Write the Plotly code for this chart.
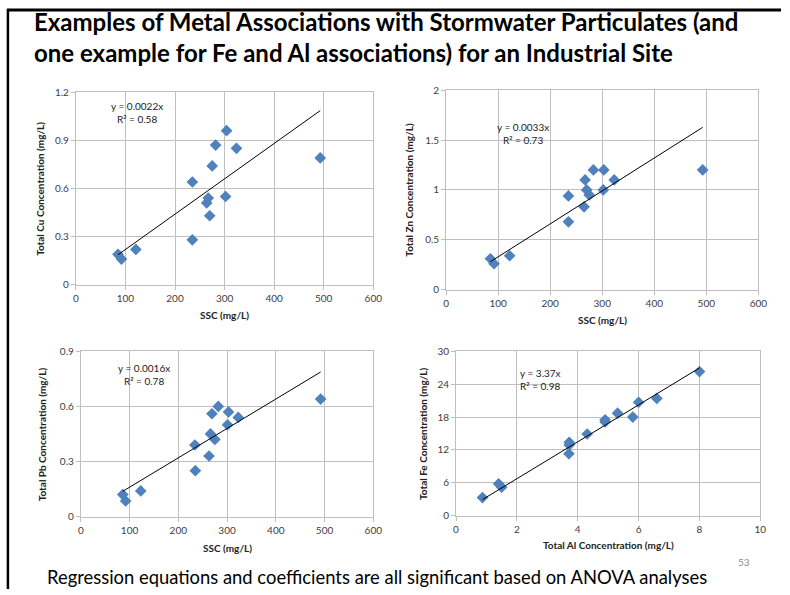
import plotly.graph_objects as go

# ---------------- data ----------------
ssc_cu = [85, 92, 121, 235, 235, 264, 267, 270, 275, 282, 304, 302, 324, 493]
cu = [0.19, 0.16, 0.22, 0.64, 0.28, 0.51, 0.54, 0.43, 0.74, 0.87, 0.96, 0.55, 0.85, 0.79]

ssc_zn = [85, 92, 122, 235, 235, 265, 267, 270, 275, 283, 303, 302, 323, 493]
zn = [0.31, 0.26, 0.34, 0.94, 0.68, 0.83, 1.10, 1.00, 0.95, 1.20, 1.20, 1.00, 1.10, 1.20]

ssc_pb = [86, 92, 123, 234, 235, 263, 266, 269, 275, 282, 303, 301, 323, 492]
pb = [0.12, 0.085, 0.14, 0.39, 0.25, 0.33, 0.45, 0.56, 0.42, 0.60, 0.57, 0.50, 0.54, 0.64]

al = [0.87, 1.40, 1.50, 3.72, 3.72, 3.71, 4.31, 4.90, 4.90, 5.31, 5.81, 6.00, 6.60, 8.00]
fe = [3.3, 5.8, 5.2, 13.4, 12.9, 11.3, 14.9, 17.5, 17.1, 18.7, 18.0, 20.7, 21.4, 26.3]

slopes = [0.0022, 0.0033, 0.0016, 3.37]
eq_labels = ["y = 0.0022x<br>R² = 0.58", "y = 0.0033x<br>R² = 0.73",
             "y = 0.0016x<br>R² = 0.78", "y = 3.37x<br>R² = 0.98"]
y_titles = ["Total Cu Concentration (mg/L)", "Total Zn Concentration (mg/L)",
            "Total Pb Concentration (mg/L)", "Total Fe Concentration (mg/L)"]
x_titles = ["SSC (mg/L)", "SSC (mg/L)", "SSC (mg/L)", "Total Al Concentration (mg/L)"]
y_ranges = [[0, 1.2], [0, 2], [0, 0.9], [0, 30]]
y_dticks = [0.3, 0.5, 0.3, 6]
x_ranges = [[0, 600], [0, 600], [0, 600], [0, 10]]
x_dticks = [100, 100, 100, 2]

title_text = ("Examples of Metal Associations with Stormwater Particulates (and<br>"
              "one example for Fe and Al associations) for an Industrial Site")
footer_text = "Regression equations and coefficients are all significant based on ANOVA analyses"

# ---------------- layout geometry (pixels) ----------------
W, H = 790, 595
# plot area boxes: x0, x1, ytop, ybottom
boxes = [(74, 376, 87, 284), (450, 767, 85, 289), (79, 376, 352, 521), (460, 769, 352, 520)]
xtitle_y = [315, 320, 553, 550]
ytitle_x = [38, 412, 40, 427]
eq_pos = [(123, 1.075, "center"), (147, 1.57, "center"), (130, 0.776, "center"), (2.05, 24.9, "left")]

BLUE = "#4F81BD"
GRID = "#BFBFBF"
TICKC = "#404040"
FONT = "Lato, Liberation Sans, sans-serif"

fig = go.Figure()
layout = dict(width=W, height=H, margin=dict(l=0, r=0, t=0, b=0),
              paper_bgcolor="white", plot_bgcolor="white", showlegend=False)

series = [(ssc_cu, cu), (ssc_zn, zn), (ssc_pb, pb), (al, fe)]
annotations = []
for i, ((xs, ys), (x0, x1, yt, yb)) in enumerate(zip(series, boxes)):
    n = "" if i == 0 else str(i + 1)
    xa, ya = "x" + n, "y" + n
    fig.add_trace(go.Scatter(x=xs, y=ys, mode="markers", xaxis=xa, yaxis=ya,
                             marker=dict(symbol="diamond", size=9, color=BLUE,
                                         line=dict(width=0))))
    xmin, xmax = min(xs), max(xs)
    fig.add_trace(go.Scatter(x=[xmin, xmax], y=[slopes[i] * xmin, slopes[i] * xmax],
                             mode="lines", xaxis=xa, yaxis=ya,
                             line=dict(color="black", width=1)))
    axcommon = dict(showgrid=True, gridcolor=GRID, gridwidth=1, showline=True, mirror=True,
                    linecolor=GRID, linewidth=1, ticks="outside", ticklen=4,
                    tickcolor=GRID, tickfont=dict(family=FONT, size=10, color=TICKC),
                    zeroline=False)
    layout["xaxis" + n] = dict(domain=[x0 / W, x1 / W], range=x_ranges[i], dtick=x_dticks[i],
                               tick0=0, anchor=ya, **axcommon)
    layout["yaxis" + n] = dict(domain=[1 - yb / H, 1 - yt / H], range=y_ranges[i],
                               dtick=y_dticks[i], tick0=0, anchor=xa, **axcommon)
    ex, ey, al_ = eq_pos[i]
    annotations.append(dict(x=ex, y=ey, xref=xa, yref=ya, text=eq_labels[i], showarrow=False,
                            align=al_, xanchor=al_, yanchor="middle",
                            font=dict(family=FONT, size=10, color="#222222")))
    annotations.append(dict(x=(x0 + x1) / 2 / W, y=1 - xtitle_y[i] / H, xref="paper", yref="paper",
                            text="<b>" + x_titles[i] + "</b>", showarrow=False,
                            xanchor="center", yanchor="middle",
                            font=dict(family=FONT, size=10, color="#222222")))
    annotations.append(dict(x=ytitle_x[i] / W, y=1 - (yt + yb) / 2 / H, xref="paper", yref="paper",
                            text="<b>" + y_titles[i] + "</b>", showarrow=False, textangle=-90,
                            xanchor="center", yanchor="middle",
                            font=dict(family=FONT, size=10, color="#222222")))

annotations.append(dict(x=29 / W, y=1 - 31 / H, xref="paper", yref="paper", text="<b>" + title_text + "</b>",
                        showarrow=False, xanchor="left", yanchor="middle", align="left",
                        font=dict(family=FONT, size=24, color="black")))
annotations.append(dict(x=380 / W, y=1 - 583 / H, xref="paper", yref="paper", text=footer_text,
                        showarrow=False, xanchor="center", yanchor="middle",
                        font=dict(family=FONT, size=18.4, color="black")))
annotations.append(dict(x=752 / W, y=1 - 567 / H, xref="paper", yref="paper", text="53",
                        showarrow=False, xanchor="center", yanchor="middle",
                        font=dict(family=FONT, size=10, color="#8C8C8C")))
layout["annotations"] = annotations
layout["shapes"] = [
    dict(type="line", xref="paper", yref="paper", x0=4 / W, x1=1, y0=1 - 3 / H, y1=1 - 3 / H,
         line=dict(color="black", width=3)),
    dict(type="line", xref="paper", yref="paper", x0=5 / W, x1=5 / W, y0=0, y1=1 - 2 / H,
         line=dict(color="black", width=2.5)),
]
fig.update_layout(**layout)
fig.write_html("out.html", config={"displayModeBar": False},
               post_script="document.body.style.margin='0';document.body.style.overflow='hidden';")
